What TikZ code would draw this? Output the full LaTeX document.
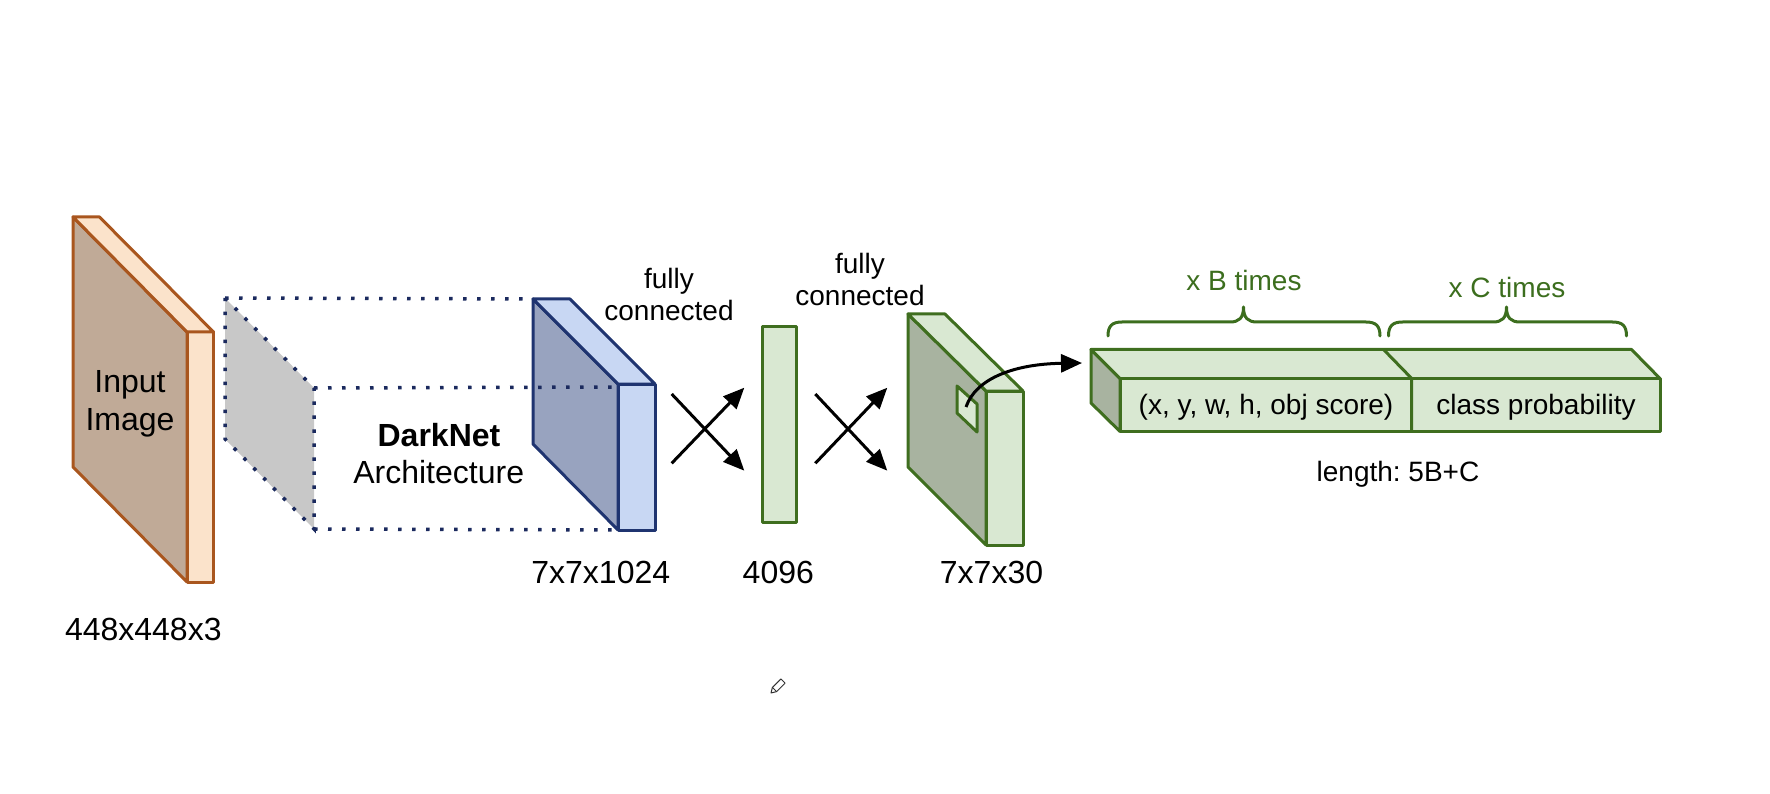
\documentclass[tikz,border=0pt]{standalone}
\usepackage{fontspec}
\setmainfont{Liberation Sans}
\usetikzlibrary{arrows.meta}
\definecolor{brownB}{HTML}{A9561E}
\definecolor{brownFace}{HTML}{C0AA97}
\definecolor{peach}{HTML}{FBE3CB}
\definecolor{grayFace}{HTML}{C8C8C8}
\definecolor{navyDot}{HTML}{1B2A5E}
\definecolor{blueB}{HTML}{1F3470}
\definecolor{blueDark}{HTML}{98A3BF}
\definecolor{blueLight}{HTML}{C8D7F3}
\definecolor{greenB}{HTML}{3F6E1F}
\definecolor{greenLight}{HTML}{D9E8D2}
\definecolor{greenDark}{HTML}{A8B3A0}
\definecolor{textGreen}{HTML}{3C6E1E}
\frenchspacing
\begin{document}
\begin{tikzpicture}[x=1pt,y=-1pt,
  big/.style={anchor=base,inner sep=0pt,font=\fontsize{32}{38}\selectfont},
  small/.style={anchor=base,inner sep=0pt,font=\fontsize{28}{33}\selectfont},
  brownbox/.style={draw=brownB,line width=3pt,line join=round},
  bluebox/.style={draw=blueB,line width=3pt,line join=round},
  greenbox/.style={draw=greenB,line width=3pt,line join=round},
  dotline/.style={draw=navyDot,line width=3.5pt,dash pattern=on 3.5pt off 10.5pt},
  fcarrow/.style={draw=black,line width=3pt,-{Triangle[length=21pt,width=18pt]}},
  bracepath/.style={draw=textGreen,line width=3pt,line cap=round,line join=round}]
\useasboundingbox (0,0) rectangle (1770,794);

% ---------- input image slab ----------
\filldraw[brownbox,fill=brownFace] (73,217) -- (73,467) -- (187,582) -- (187,332) -- cycle;
\filldraw[brownbox,fill=peach] (187,332) rectangle (213.5,582);
\filldraw[brownbox,fill=peach] (73,217) -- (99.5,217) -- (213.5,332) -- (187,332) -- cycle;
\node[big] (inp1) at (130,392) {Input};
\node[big] (inp2) at (130,430) {Image};
\node[big] (lab1) at (143.3,640) {448x448x3};

% ---------- gray projection plane ----------
\coordinate (g1) at (225,298);
\coordinate (g2) at (314,388);
\coordinate (g3) at (314,529);
\coordinate (g4) at (225,439);
\fill[grayFace] (g1) -- (g2) -- (g3) -- (g4) -- cycle;

% ---------- blue slab ----------
\filldraw[bluebox,fill=blueDark] (533,299) -- (533,444) -- (618,530) -- (618,384) -- cycle;
\filldraw[bluebox,fill=blueLight] (618,384) rectangle (655,530);
\filldraw[bluebox,fill=blueLight] (533,299) -- (570,299) -- (655,384) -- (618,384) -- cycle;
\coordinate (b1) at (533,299);
\coordinate (b2) at (618,387);
\coordinate (b3) at (618,530);

% dotted projection lines
\draw[dotline] (g1) -- (g2) -- (g3) -- (g4) -- cycle;
\draw[dotline] (g1) -- (b1);
\draw[dotline] (g2) -- (b2);
\draw[dotline] (g3) -- (b3);

\node[big,font=\fontsize{32}{38}\selectfont\bfseries] (dk1) at (439,446) {DarkNet};
\node[big] (dk2) at (438.7,483.3) {Architecture};
\node[big] (lab2) at (600.8,583.3) {7x7x1024};

% ---------- first fully connected ----------
\node[small] (fc1a) at (669,288.3) {fully};
\node[small] (fc1b) at (669,320) {connected};
\coordinate (x1a) at (671.7,463.3);
\coordinate (x1b) at (744.3,387.7);
\coordinate (x1c) at (671.7,394);
\coordinate (x1d) at (744.3,470.7);
\draw[fcarrow] (x1a) -- (x1b);
\draw[fcarrow] (x1c) -- (x1d);

% ---------- 4096 vector ----------
\filldraw[greenbox,fill=greenLight] (762,327) rectangle (796,522);
\node[big] (lab3) at (778.3,583.3) {4096};

% ---------- second fully connected ----------
\node[small] (fc2a) at (860,273.3) {fully};
\node[small] (fc2b) at (860,306) {connected};
\coordinate (x2a) at (815.3,463.3);
\coordinate (x2b) at (887.3,387.7);
\coordinate (x2c) at (815.3,394);
\coordinate (x2d) at (887.3,470.7);
\draw[fcarrow] (x2a) -- (x2b);
\draw[fcarrow] (x2c) -- (x2d);

% ---------- green output slab ----------
\filldraw[greenbox,fill=greenDark] (908,314) -- (908,467) -- (986,545) -- (986,391) -- cycle;
\filldraw[greenbox,fill=greenLight] (986,391) rectangle (1023,545);
\filldraw[greenbox,fill=greenLight] (908,314) -- (945,314) -- (1023,391) -- (986,391) -- cycle;
\filldraw[greenbox,line width=3pt,fill=greenLight] (957,386) -- (977,404) -- (977,432) -- (957,413) -- cycle;
\node[big] (lab4) at (991.5,583.3) {7x7x30};
\coordinate (cellc) at (966,407);
\coordinate (vecin) at (1082,363);
\draw[fcarrow] (cellc) .. controls (976,378) and (1015,364) .. (vecin);

% ---------- output vector ----------
\filldraw[greenbox,fill=greenDark] (1091,349.5) -- (1120,378.5) -- (1120,431.5) -- (1091,403) -- cycle;
\filldraw[greenbox,fill=greenLight] (1091,349.5) -- (1631.5,349.5) -- (1660,378.5) -- (1120,378.5) -- cycle;
\filldraw[greenbox,fill=greenLight] (1120,378.5) rectangle (1660,431.5);
\draw[greenbox] (1383.5,349.5) -- (1411.7,378.5) -- (1411.7,431.5);
\node[small] (box1) at (1266,414) {(x, y, w, h, obj score)};
\node[small] (box2) at (1536,414) {class probability};
\node[small] (len) at (1398,481.7) {length: 5B+C};

% braces
\draw[bracepath] (1108,336) .. controls (1108,326) and (1112,322) .. (1122,322)
  -- (1230,322) .. controls (1239,322) and (1243.5,318) .. (1243.5,307)
  .. controls (1243.5,318) and (1248,322) .. (1257,322)
  -- (1366,322) .. controls (1376,322) and (1380,326) .. (1380,336);
\draw[bracepath] (1388.5,336) .. controls (1388.5,326) and (1392.5,322) .. (1402.5,322)
  -- (1493,322) .. controls (1502,322) and (1506.5,318) .. (1506.5,307)
  .. controls (1506.5,318) and (1511,322) .. (1520,322)
  -- (1612.5,322) .. controls (1622.5,322) and (1626.5,326) .. (1626.5,336);
\node[small,text=textGreen] (bt) at (1244,291) {x B times};
\node[small,text=textGreen] (ct) at (1507,297.3) {x C times};

% pencil mark
\draw[black!80,line width=1pt,line join=round] (771,693) -- (776.6,691.6) -- (785.1,683.1) -- (780.9,678.9) -- (772.4,687.4) -- cycle;
\draw[black!80,line width=1pt] (776.6,691.6) -- (772.4,687.4);
\end{tikzpicture}
\end{document}
